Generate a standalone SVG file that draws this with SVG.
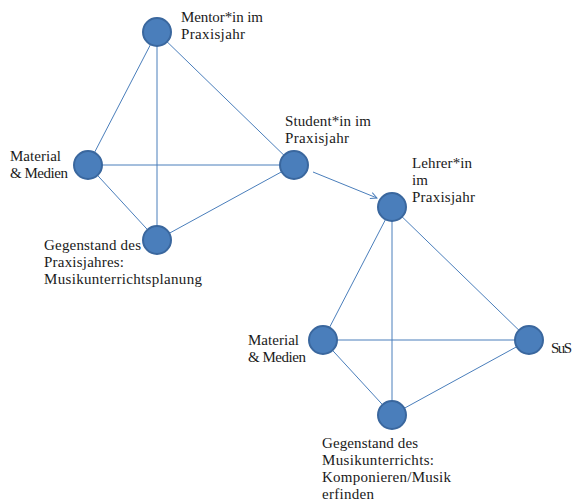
<svg xmlns="http://www.w3.org/2000/svg" width="573" height="502" viewBox="0 0 573 502">
<style>
.edge{stroke:#4a7ebb;stroke-width:1;fill:none}
.node{fill:#4a7ebb;stroke:#3a679e;stroke-width:2}
.lbl{font-family:"Liberation Serif","DejaVu Serif",serif;font-size:15px;fill:#1a1a1a}
</style>
<defs>
<marker id="arr" viewBox="0 0 10 10" refX="9" refY="5" markerWidth="8" markerHeight="8" orient="auto" markerUnits="userSpaceOnUse">
<path d="M1,1 L9,5 L1,9" fill="none" stroke="#4a7ebb" stroke-width="1.2"/>
</marker>
</defs>
<rect width="573" height="502" fill="#ffffff"/>
<g id="connectors">
<line class="edge" x1="157" y1="32" x2="88" y2="165"/>
<line class="edge" x1="157" y1="32" x2="157" y2="240"/>
<line class="edge" x1="157" y1="32" x2="294" y2="165"/>
<line class="edge" x1="88" y1="165" x2="294" y2="165"/>
<line class="edge" x1="88" y1="165" x2="157" y2="240"/>
<line class="edge" x1="294" y1="165" x2="157" y2="240"/>
<line class="edge" x1="313" y1="172" x2="377" y2="198" marker-end="url(#arr)"/>
<line class="edge" x1="392" y1="207" x2="323" y2="340"/>
<line class="edge" x1="392" y1="207" x2="392" y2="415"/>
<line class="edge" x1="392" y1="207" x2="529" y2="340"/>
<line class="edge" x1="323" y1="340" x2="529" y2="340"/>
<line class="edge" x1="323" y1="340" x2="392" y2="415"/>
<line class="edge" x1="529" y1="340" x2="392" y2="415"/>
</g>
<g id="mentor">
<circle class="node" cx="157" cy="32" r="14"/>
<text class="lbl" x="181" y="22" textLength="82">Mentor*in im</text>
<text class="lbl" x="181" y="39" textLength="64">Praxisjahr</text>
</g>
<g id="material1">
<circle class="node" cx="88" cy="165" r="14"/>
<text class="lbl" x="10" y="161" textLength="51">Material</text>
<text class="lbl" x="10" y="178" textLength="58">&amp; Medien</text>
</g>
<g id="student">
<circle class="node" cx="294" cy="165" r="14"/>
<text class="lbl" x="285" y="126" textLength="86">Student*in im</text>
<text class="lbl" x="285" y="143" textLength="64">Praxisjahr</text>
</g>
<g id="gegenstand1">
<circle class="node" cx="157" cy="240" r="14"/>
<text class="lbl" x="44" y="250" textLength="97">Gegenstand des</text>
<text class="lbl" x="44" y="267" textLength="80">Praxisjahres:</text>
<text class="lbl" x="44" y="284" textLength="158">Musikunterrichtsplanung</text>
</g>
<g id="lehrer">
<circle class="node" cx="392" cy="207" r="14"/>
<text class="lbl" x="412" y="168" textLength="60">Lehrer*in</text>
<text class="lbl" x="412" y="185">im</text>
<text class="lbl" x="412" y="202" textLength="63">Praxisjahr</text>
</g>
<g id="material2">
<circle class="node" cx="323" cy="340" r="14"/>
<text class="lbl" x="248" y="345" textLength="51">Material</text>
<text class="lbl" x="248" y="362" textLength="58">&amp; Medien</text>
</g>
<g id="sus">
<circle class="node" cx="529" cy="340" r="14"/>
<text class="lbl" x="551" y="353" textLength="21">SuS</text>
</g>
<g id="gegenstand2">
<circle class="node" cx="392" cy="415" r="14"/>
<text class="lbl" x="322" y="448" textLength="96">Gegenstand des</text>
<text class="lbl" x="322" y="465" textLength="112">Musikunterrichts:</text>
<text class="lbl" x="322" y="482" textLength="129">Komponieren/Musik</text>
<text class="lbl" x="322" y="499" textLength="52">erfinden</text>
</g>
</svg>
